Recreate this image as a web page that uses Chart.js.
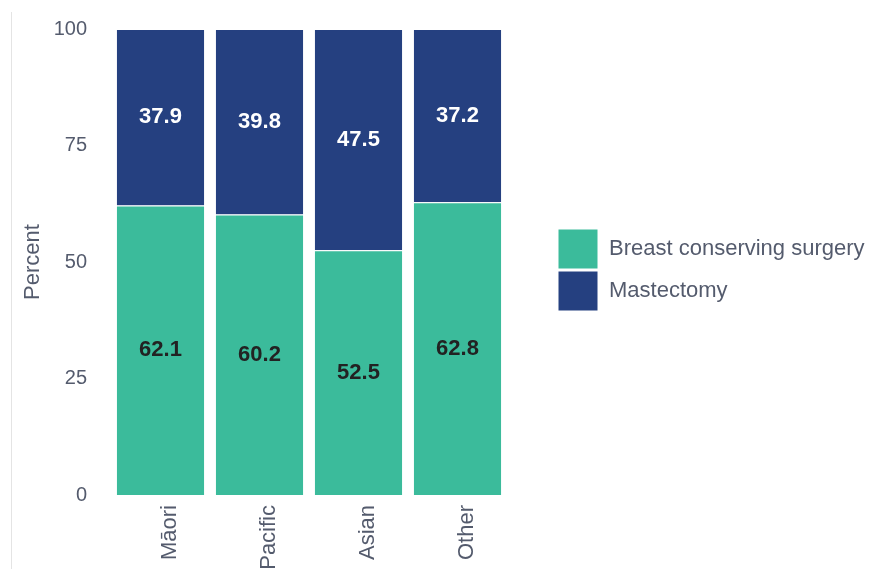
<!DOCTYPE html>
<html lang="en">
  <head>
    <meta charset="UTF-8" />
    <title>Surgery type by ethnicity</title>
    <style>
      html, body {
        margin: 0;
        padding: 0;
        background: #fff;
        overflow: hidden;
      }
      #frame {
        position: absolute;
        left: 11px;
        top: 12px;
        width: 1px;
        height: 560px;
        background: #e4e4e4;
      }
      #chart-box {
        position: absolute;
        left: 12px;
        top: 0;
        width: 862px;
        height: 590px;
      }
    </style>
  </head>
  <body>
    <div id="frame"></div>
    <div id="chart-box"><canvas id="myChart"></canvas></div>
    <script src="https://cdn.jsdelivr.net/npm/chart.js"></script>
    <script>
      const categories = ['Māori', 'Pacific', 'Asian', 'Other']
      const conserving = [62.1, 60.2, 52.5, 62.8]
      const mastectomy = [37.9, 39.8, 47.5, 37.2]
      const yTicks = [0, 25, 50, 75, 100]

      const textGrey = '#545b6d'
      Chart.defaults.font.family = "'Liberation Sans', Arial, sans-serif"

      // writes the value in the middle of each bar segment
      const barValues = {
        id: 'barValues',
        afterDatasetsDraw(chart) {
          const ctx = chart.ctx
          ctx.save()
          ctx.font = "bold 22px 'Liberation Sans', Arial, sans-serif"
          ctx.textAlign = 'center'
          ctx.textBaseline = 'middle'
          chart.data.datasets.forEach((dataset, i) => {
            chart.getDatasetMeta(i).data.forEach((bar, j) => {
              ctx.fillStyle = dataset.valueColor
              ctx.fillText(dataset.data[j].toFixed(1), bar.x, (bar.y + bar.base) / 2)
            })
          })
          ctx.restore()
        }
      }

      // the legend on the right is wider than chart.js allows by default
      const wideLegend = {
        id: 'wideLegend',
        afterInit(chart) {
          const legend = chart.legend
          const fit = legend.fit
          legend.fit = function () {
            fit.call(this)
            this.width = 318
          }
        }
      }

      const ctx = document.getElementById('myChart')
      const myChart = new Chart(ctx, {
        type: 'bar',
        data: {
          labels: categories,
          datasets: [
            {
              label: 'Breast conserving surgery',
              data: conserving,
              backgroundColor: '#3bbb9b',
              borderColor: '#ffffff',
              borderWidth: 1,
              valueColor: '#222222'
            },
            {
              label: 'Mastectomy',
              data: mastectomy,
              backgroundColor: '#254080',
              borderColor: '#ffffff',
              borderWidth: 1,
              valueColor: '#ffffff'
            }
          ]
        },
        options: {
          responsive: true,
          maintainAspectRatio: false,
          animation: false,
          barPercentage: 0.9,
          categoryPercentage: 1,
          layout: {
            padding: { top: 29, left: 0, right: 0, bottom: 0 }
          },
          plugins: {
            legend: {
              position: 'right',
              fullSize: false,
              title: {
                display: true,
                text: ' ',
                font: { size: 10 },
                padding: 2
              },
              labels: {
                boxWidth: 40,
                boxHeight: 40,
                padding: 2,
                color: textGrey,
                font: { size: 22 }
              }
            },
            tooltip: { enabled: false }
          },
          scales: {
            x: {
              stacked: true,
              grid: { display: false, drawTicks: false },
              border: { display: false },
              ticks: {
                color: textGrey,
                font: { size: 22 },
                minRotation: 90,
                maxRotation: 90,
                padding: 10,
                labelOffset: 9
              },
              afterFit: (scale) => {
                scale.height = 95
              }
            },
            y: {
              stacked: true,
              min: 0,
              max: 100,
              grid: { display: false, drawTicks: false },
              border: { display: false },
              afterBuildTicks: (scale) => {
                scale.ticks = yTicks.map((v) => ({ value: v }))
              },
              ticks: {
                color: textGrey,
                font: { size: 20 },
                padding: 24
              },
              title: {
                display: true,
                text: 'Percent',
                color: textGrey,
                font: { size: 22 },
                padding: { top: 8, bottom: 4 }
              },
              afterFit: (scale) => {
                scale.width = 99
                scale.paddingTop = 0
                scale.paddingBottom = 0
              }
            },
            gap: {
              position: 'right',
              display: true,
              grid: { display: false, drawTicks: false },
              border: { display: false },
              ticks: { display: false },
              afterFit: (scale) => {
                scale.width = 49
              }
            }
          }
        },
        plugins: [barValues, wideLegend]
      })
    </script>
  </body>
</html>
